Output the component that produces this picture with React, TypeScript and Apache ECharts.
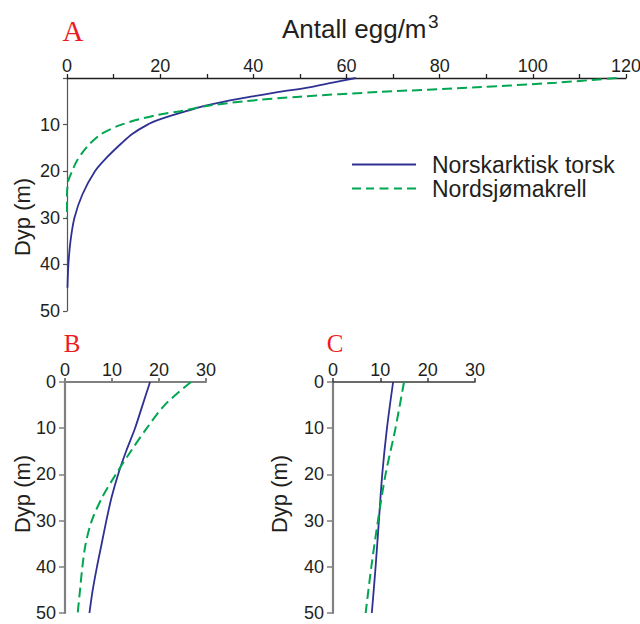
import React, { useEffect, useRef } from "react";
import * as echarts from "echarts";

// ---- data ----
const seriesNames = ["Norskarktisk torsk", "Nordsjømakrell"];

// Panel A
const depthA_torsk = [0, 1, 2, 3, 4, 5, 6, 7, 8, 9, 10, 12, 14, 17, 20, 25, 30, 35, 40, 45];
const torskA = [62, 57, 52, 45.5, 39.5, 34, 29.5, 26, 22.5, 19.6, 17.3, 14, 11.7, 8.6, 6, 3.3, 1.6, 0.75, 0.3, 0.1];
const depthA_makrell = [0, 1, 2, 3, 4, 5, 6, 7, 8, 10, 12, 14, 16, 18, 20, 22, 25, 30];
const makrellA = [118, 105, 88, 67, 50, 38, 30, 25, 19, 11.7, 7.4, 5, 3.3, 2, 1.1, 0.3, 0, 0];

// Panel B
const depthB = [0, 5, 10, 15, 20, 25, 30, 35, 40, 45, 50];
const torskB = [18.1, 16.5, 14.9, 13.0, 11.3, 9.9, 8.8, 7.8, 6.8, 5.9, 5.2];
const makrellB = [26.8, 21.2, 17.4, 14.0, 10.8, 7.9, 5.7, 4.4, 3.7, 3.2, 2.7];

// Panel C
const depthC = [0, 10, 20, 30, 40, 50];
const torskC = [12.7, 11.4, 10.4, 9.7, 9.0, 8.2];
const makrellC = [15.0, 13.2, 11.1, 9.5, 8.1, 6.9];

const xTicksA = { min: 0, max: 120, interval: 10, labelEvery: 20 };
const xTicksBC = { min: 0, max: 30, interval: 10 };
const yTicks = { min: 0, max: 50, interval: 10 };

const BLUE = "#2e3192";
const GREEN = "#00a651";
const RED = "#ed1c24";
const TXT = "#231f20";
const SANS = "Liberation Sans, Arial, Helvetica, sans-serif";
const SERIF = "Liberation Serif, Times New Roman, serif";

const SOLID_ICON = "path://M0,0h64v2h-64z";
const DASH_ICON = "path://M0,0h9v2h-9zM14,0h8v2h-8zM27.5,0h9v2h-9zM42,0h8v2h-8zM55,0h9v2h-9z";

const pairs = (vals: number[], depths: number[]) => vals.map((v, i) => [v, depths[i]]);

function xAxisCfg(grid: number, t: any, lineColor: string, lineWidth: number, every?: number) {
  return {
    gridIndex: grid,
    type: "value",
    position: "top",
    min: t.min,
    max: t.max,
    interval: t.interval,
    axisLine: { show: true, onZero: false, lineStyle: { color: lineColor, width: lineWidth } },
    axisTick: { show: true, length: 4, lineStyle: { color: lineColor, width: lineWidth } },
    axisLabel: {
      show: true,
      fontSize: 18,
      fontFamily: SANS,
      color: TXT,
      margin: 3,
      formatter: (v: number) => (every ? (v % every === 0 ? String(v) : "") : String(v)),
    },
    splitLine: { show: false },
  };
}

function yAxisCfg(grid: number, lineColor: string, lineWidth: number, tickLen: number, margin: number, hideZero: boolean) {
  return {
    gridIndex: grid,
    type: "value",
    inverse: true,
    min: yTicks.min,
    max: yTicks.max,
    interval: yTicks.interval,
    axisLine: { show: true, onZero: false, lineStyle: { color: lineColor, width: lineWidth } },
    axisTick: { show: true, length: tickLen, lineStyle: { color: lineColor, width: Math.min(lineWidth, 1.5) } },
    axisLabel: {
      show: true,
      fontSize: 18,
      lineHeight: 14,
      fontFamily: SANS,
      color: TXT,
      margin,
      formatter: (v: number) => (hideZero && v === 0 ? "" : String(v)),
    },
    splitLine: { show: false },
  };
}

function lineSeries(name: string, data: number[][], idx: number, dashed: boolean) {
  return {
    name,
    type: "line",
    xAxisIndex: idx,
    yAxisIndex: idx,
    data,
    symbol: "none",
    smooth: 0.3,
    clip: false,
    color: dashed ? GREEN : BLUE,
    itemStyle: { color: dashed ? GREEN : BLUE },
    lineStyle: dashed
      ? { color: GREEN, width: 2, type: [10, 5] }
      : { color: BLUE, width: 1.8, type: "solid" },
  };
}

export default function App() {
  const ref = useRef<HTMLDivElement>(null);

  useEffect(() => {
    if (!ref.current) return;
    const chart = echarts.init(ref.current, undefined, { renderer: "svg" });
    const gridBase = { containLabel: false, outerBoundsMode: "none" };
    chart.setOption({
      animation: false,
      backgroundColor: "#ffffff",
      grid: [
        { ...gridBase, left: 67, top: 78, width: 559, height: 233 },
        { ...gridBase, left: 65, top: 382, width: 141, height: 231 },
        { ...gridBase, left: 333, top: 382, width: 142, height: 231 },
      ],
      xAxis: [
        xAxisCfg(0, xTicksA, TXT, 1.3, xTicksA.labelEvery),
        xAxisCfg(1, xTicksBC, "#808080", 2),
        xAxisCfg(2, xTicksBC, "#3a3a3a", 1.5),
      ],
      yAxis: [
        yAxisCfg(0, "#555555", 1.2, 4, 7, true),
        yAxisCfg(1, "#808080", 2.2, 6, 9, false),
        yAxisCfg(2, "#808080", 2.2, 6, 9, false),
      ],
      legend: {
        show: true,
        orient: "vertical",
        left: 352,
        top: 153,
        padding: 0,
        itemWidth: 64,
        itemHeight: 2,
        itemGap: 1,
        selectedMode: false,
        itemStyle: { borderWidth: 0 },
        data: [
          { name: seriesNames[0], icon: SOLID_ICON, itemStyle: { color: BLUE } },
          { name: seriesNames[1], icon: DASH_ICON, itemStyle: { color: GREEN } },
        ],
        textStyle: {
          fontSize: 23,
          fontFamily: SANS,
          color: TXT,
          lineHeight: 21,
          padding: [0, 0, 0, 11],
        },
      },
      graphic: [
        {
          type: "text",
          x: 73,
          y: 31,
          style: { text: "A", fontSize: 29, fontFamily: SERIF, fill: RED, align: "center", verticalAlign: "middle" },
        },
        {
          type: "text",
          x: 72,
          y: 343,
          style: { text: "B", fontSize: 25, fontFamily: SERIF, fill: RED, align: "center", verticalAlign: "middle" },
        },
        {
          type: "text",
          x: 335,
          y: 343,
          style: { text: "C", fontSize: 25, fontFamily: SERIF, fill: RED, align: "center", verticalAlign: "middle" },
        },
        {
          type: "text",
          x: 282,
          y: 29,
          style: { text: "Antall egg/m", fontSize: 26, fontFamily: SANS, fill: TXT, align: "left", verticalAlign: "middle" },
        },
        {
          type: "text",
          x: 428,
          y: 21.5,
          style: { text: "3", fontSize: 19, fontFamily: SANS, fill: TXT, align: "left", verticalAlign: "middle" },
        },
        {
          type: "text",
          x: 22,
          y: 217,
          rotation: Math.PI / 2,
          style: { text: "Dyp (m)", fontSize: 22, fontFamily: SANS, fill: TXT, align: "center", verticalAlign: "middle" },
        },
        {
          type: "text",
          x: 22,
          y: 494,
          rotation: Math.PI / 2,
          style: { text: "Dyp (m)", fontSize: 22, fontFamily: SANS, fill: TXT, align: "center", verticalAlign: "middle" },
        },
        {
          type: "text",
          x: 279,
          y: 494,
          rotation: Math.PI / 2,
          style: { text: "Dyp (m)", fontSize: 22, fontFamily: SANS, fill: TXT, align: "center", verticalAlign: "middle" },
        },
      ],
      series: [
        lineSeries(seriesNames[0], pairs(torskA, depthA_torsk), 0, false),
        lineSeries(seriesNames[1], pairs(makrellA, depthA_makrell), 0, true),
        lineSeries(seriesNames[0], pairs(torskB, depthB), 1, false),
        lineSeries(seriesNames[1], pairs(makrellB, depthB), 1, true),
        lineSeries(seriesNames[0], pairs(torskC, depthC), 2, false),
        lineSeries(seriesNames[1], pairs(makrellC, depthC), 2, true),
      ],
    });
    return () => chart.dispose();
  }, []);

  return (
    <div
      ref={ref}
      style={{ position: "absolute", left: 0, top: 0, width: 640, height: 624, background: "#fff" }}
    />
  );
}
